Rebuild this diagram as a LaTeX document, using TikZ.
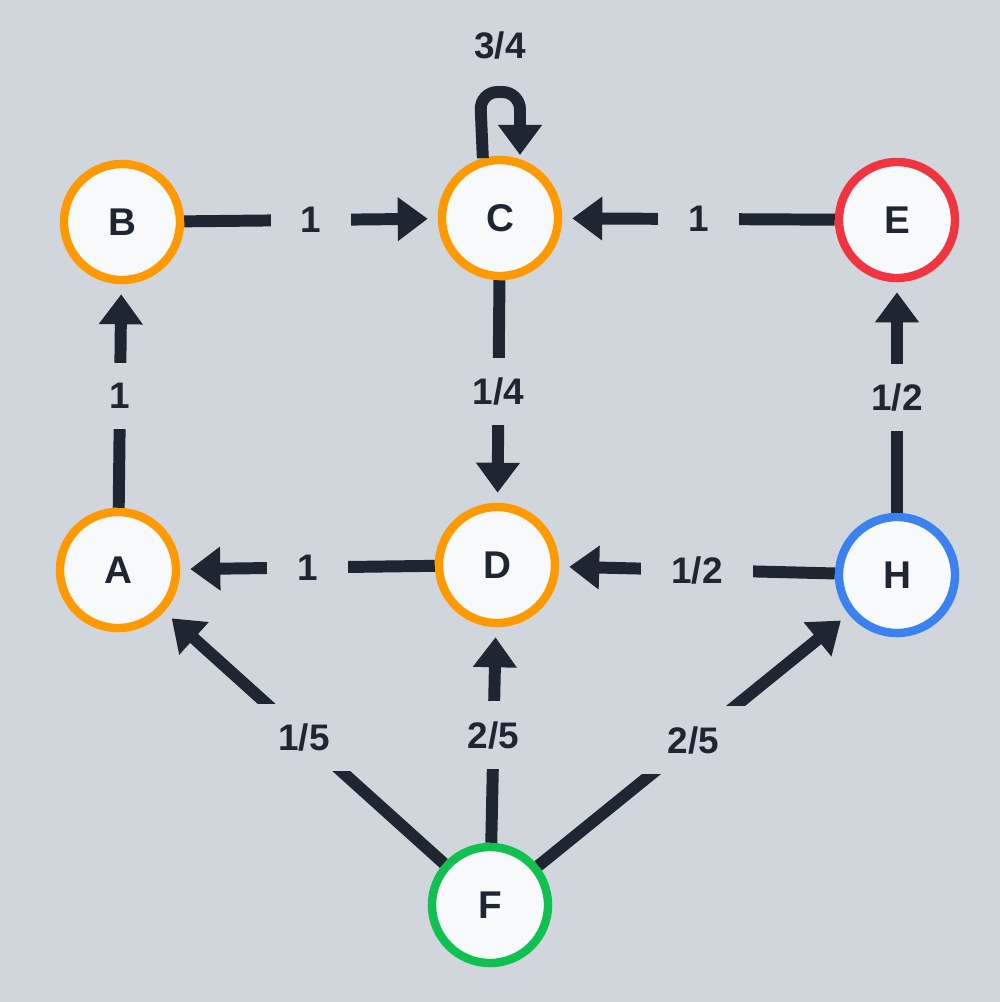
\documentclass[tikz,border=0pt]{standalone}
\usepackage{fontspec}
\setmainfont{Liberation Sans}
\usetikzlibrary{arrows.meta}
\definecolor{bgc}{HTML}{D1D5DC}
\definecolor{ink}{HTML}{1E2632}
\definecolor{orng}{HTML}{FF9900}
\definecolor{rd}{HTML}{F03440}
\definecolor{bl}{HTML}{3B82F0}
\definecolor{grn}{HTML}{10C050}
\definecolor{nodefill}{HTML}{F8F9FB}
\tikzset{
  state/.style={circle, draw=#1, line width=2.4pt, fill=nodefill, minimum size=1.16cm,
    inner sep=0pt, font=\bfseries\fontsize{11}{13}\selectfont, text=ink},
  flow/.style={ink, line width=3.4pt, -{Triangle[length=0.3cm,width=0.42cm]}, shorten >=0.1cm},
  wt/.style={fill=bgc, inner xsep=0.3cm, inner ysep=0.2cm, font=\bfseries\fontsize{10.5}{12}\selectfont, text=ink}
}
\begin{document}
\begin{tikzpicture}[x=0.01cm,y=-0.01cm]
  \fill[bgc] (0,0) rectangle (1000,1002);
  \useasboundingbox (0,0) rectangle (1000,1002);
  \node[state=orng] at (122,222) (B) {B};
  \node[state=orng] at (500,218) (C) {C};
  \node[state=rd] at (897,220) (E) {E};
  \node[state=orng] at (118,570) (A) {A};
  \node[state=orng] at (497,565) (D) {D};
  \node[state=bl] at (897,575) (H) {H};
  \node[state=grn] at (490,905) (F) {F};
  \draw [flow] (B) -- node[wt] {1} (C);
  \draw [flow] (E) -- node[wt] {1} (C);
  \draw [flow] (A) -- node[wt] {1} (B);
  \draw [flow] (C) -- node[wt] {1/4} (D);
  \draw [flow] (D) -- node[wt] {1} (A);
  \draw [flow] (H) -- node[wt] {1/2} (D);
  \draw [flow] (H) -- node[wt] {1/2} (E);
  \draw [flow] (F) -- node[wt] {1/5} (A);
  \draw [flow] (F) -- node[wt] {2/5} (D);
  \draw [flow] (F) -- node[wt] {2/5} (H);
  % self loop on C
  \coordinate (c1) at (480,92);
  \coordinate (c2) at (520,92);
  \coordinate (c3) at (520,155);
  \draw [flow, shorten >=0pt, rounded corners=5pt] (C.106) -- (c1) -- (c2) -- (c3);
  \node[wt] at (500,45) (loopw) {3/4};
\end{tikzpicture}
\end{document}
